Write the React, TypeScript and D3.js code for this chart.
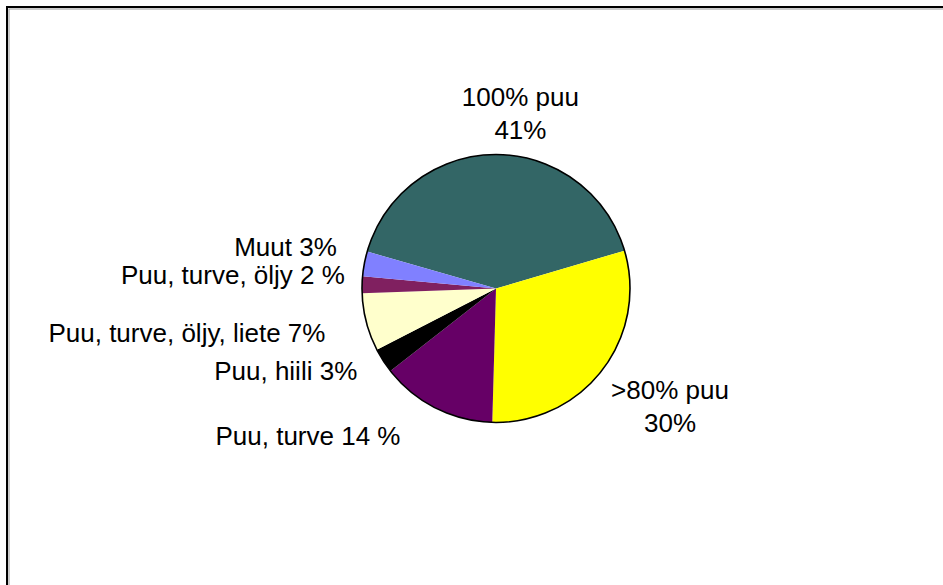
import React from "react";
import * as d3 from "d3";

// slice data, in the order Excel drew them (clockwise)
const labels = [
  "100% puu",
  ">80% puu",
  "Puu, turve",
  "Puu, hiili",
  "Puu, turve, öljy, liete",
  "Puu, turve, öljy",
  "Muut",
];
const values = [41, 30, 14, 3, 7, 2, 3];
const labelText = [
  ["100% puu", "41%"],
  [">80% puu", "30%"],
  ["Puu, turve 14 %"],
  ["Puu, hiili 3%"],
  ["Puu, turve, öljy, liete 7%"],
  ["Puu, turve, öljy 2 %"],
  ["Muut 3%"],
];
const colors = ["#336666", "#FFFF00", "#660066", "#000000", "#FFFFCC", "#802060", "#8080FF"];

// label placement relative to the slice centroid at 1.3r
const labelNudge = [
  { dx: 25, dy: -8, anchor: "middle" },
  { dx: 36, dy: 4, anchor: "middle" },
  { dx: -17, dy: 1, anchor: "end" },
  { dx: 8, dy: -2, anchor: "end" },
  { dx: -2, dy: 10, anchor: "end" },
  { dx: 23, dy: 0, anchor: "end" },
  { dx: 12, dy: 0, anchor: "end" },
];

const width = 943;
const height = 585;
const cx = 496;
const cy = 288.5;
const radius = 134;

export default function App() {
  const data = labels.map((l, i) => ({ label: l, value: values[i], i }));

  const pie = d3
    .pie<any>()
    .sort(null)
    .value((d) => d.value)
    .startAngle((-74 * Math.PI) / 180)
    .endAngle((286 * Math.PI) / 180);

  const arcs = pie(data);
  const arc = d3.arc<any>().innerRadius(0).outerRadius(radius);
  const labelArc = d3.arc<any>().innerRadius(radius * 1.3).outerRadius(radius * 1.3);

  return (
    <svg
      width={width}
      height={height}
      style={{ position: "absolute", left: 0, top: 0, background: "#fff" }}
      fontFamily="'Liberation Sans', Arial, sans-serif"
    >
      {/* chart area frame */}
      <rect x={7} y={7} width={1000} height={1000} fill="none" stroke="#000" strokeWidth={2} />
      <rect x={9} y={9} width={1000} height={1000} fill="none" stroke="#999" strokeWidth={1} />

      <g transform={`translate(${cx},${cy})`}>
        {arcs.map((a) => (
          <path key={a.data.label} d={arc(a) || ""} fill={colors[a.data.i]} stroke="none" />
        ))}
        <circle r={radius} fill="none" stroke="#000" strokeWidth={1.6} />

        {arcs.map((a) => {
          const [x, y] = labelArc.centroid(a);
          const n = labelNudge[a.data.i];
          const lines = labelText[a.data.i];
          return (
            <text
              key={"t" + a.data.label}
              x={x + n.dx}
              y={y + n.dy}
              textAnchor={n.anchor}
              fontSize={26}
              fill="#000"
            >
              {lines.map((s, k) => (
                <tspan key={k} x={x + n.dx} dy={k === 0 ? 0 : 33}>
                  {s}
                </tspan>
              ))}
            </text>
          );
        })}
      </g>
    </svg>
  );
}
